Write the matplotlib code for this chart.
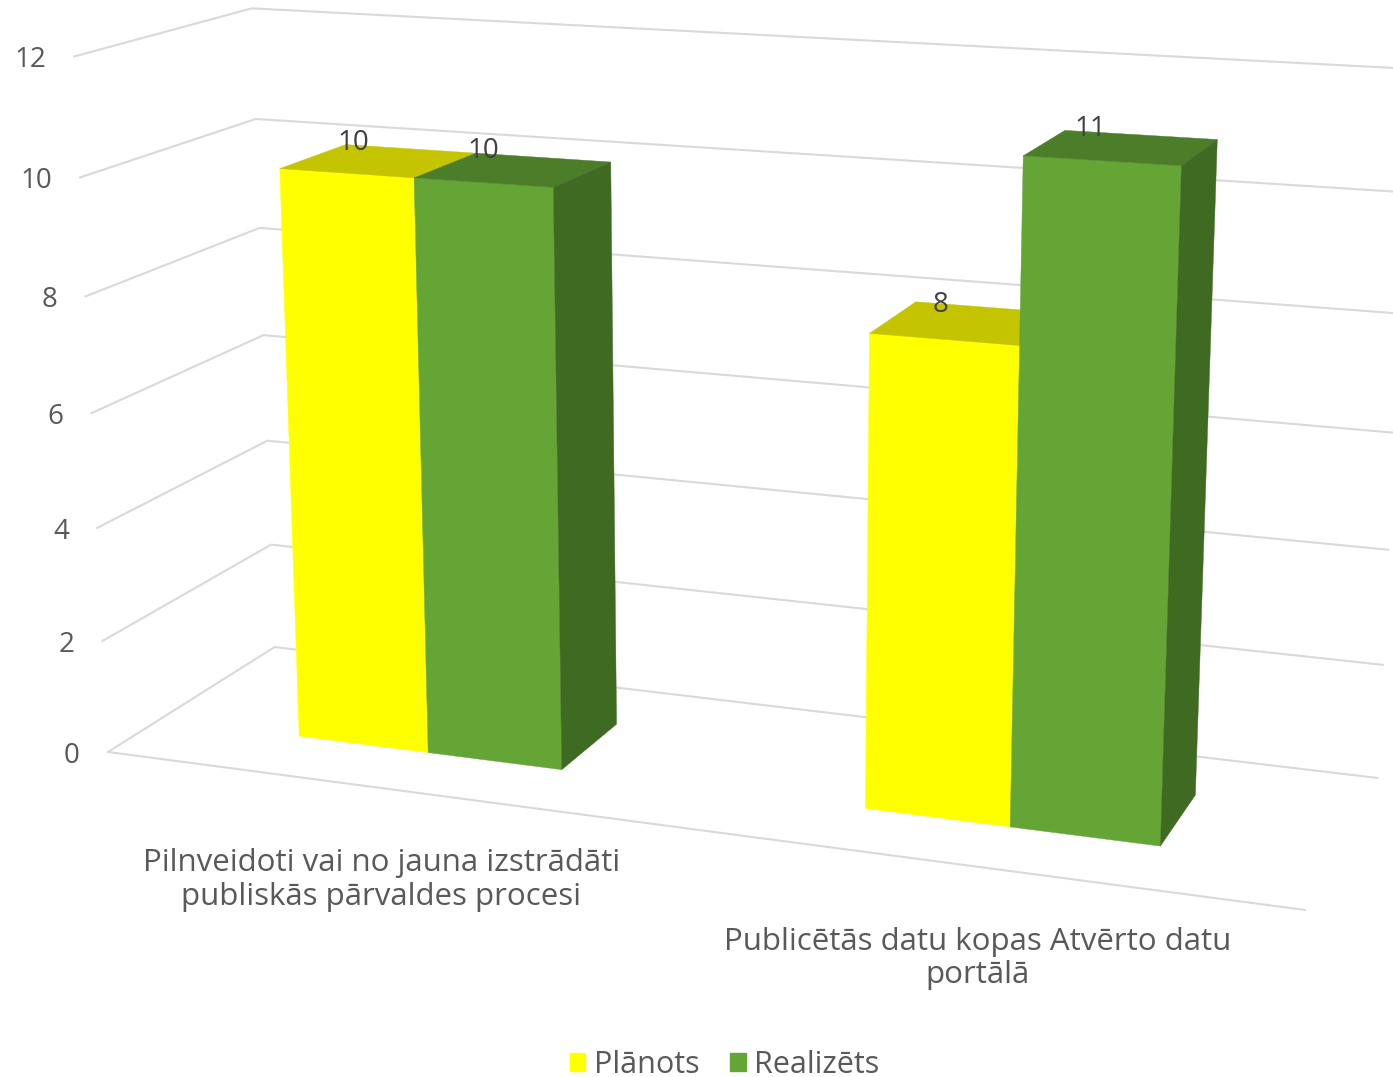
import numpy as np
import matplotlib
matplotlib.use('Agg')
import matplotlib.pyplot as plt
from matplotlib.patches import Patch, Polygon

categories = ['Pilnveidoti vai no jauna izstrādāti\npubliskās pārvaldes procesi',
              'Publicētās datu kopas Atvērto datu\nportālā']
planots = [10, 8]
realizets = [10, 11]
yticks = [0, 2, 4, 6, 8, 10, 12]

plt.rcParams['font.family'] = ['Open Sans', 'DejaVu Sans']
TEXT = '#595959'
GRID = '#d9d9d9'
YELLOW = ('#ffff00', '#c4c400')
GREEN = ('#64a536', '#4c7e2a', '#3f6a22')

# camera matrix for the 3D chart: (category, value, depth) -> pixels
P = np.array([[524.788581, -3.131271, 192.113957, 107.995554],
              [27.652251, -58.190863, -44.970334, 751.971174],
              [-0.056405, -0.004156, 0.092711, 1.0]])


def proj(x, y, z):
    q = P @ np.array([x, y, z, 1.0])
    return q[0] / q[2], q[1] / q[2]


def face(ax, pts, color, zorder):
    ax.add_patch(Polygon([proj(*p) for p in pts], closed=True, facecolor=color,
                         edgecolor=color, linewidth=0.3, zorder=zorder))


def box(ax, x0, x1, h, colors, zorder, side=False):
    z0, z1 = 0.3, 0.7
    face(ax, [(x0, 0, z0), (x1, 0, z0), (x1, h, z0), (x0, h, z0)], colors[0], zorder)
    face(ax, [(x0, h, z0), (x1, h, z0), (x1, h, z1), (x0, h, z1)], colors[1], zorder)
    if side:
        face(ax, [(x1, 0, z0), (x1, 0, z1), (x1, h, z1), (x1, h, z0)], colors[2], zorder)


fig = plt.figure(figsize=(13.93, 10.77), dpi=100)
ax = fig.add_axes([0, 0, 1, 1])
ax.set_xlim(0, 1393)
ax.set_ylim(1077, 0)
ax.axis('off')

# walls
for t in yticks:
    pts = [proj(0, t, 0), proj(0, t, 1), proj(2, t, 1)]
    ax.plot([p[0] for p in pts], [p[1] for p in pts], color=GRID, lw=1.5, zorder=1)
    u, v = proj(0, t, 0)
    ax.text(u - 28, v + 4, str(t), ha='right', va='center', fontsize=20, color=TEXT)
front = [proj(0, 0, 0), proj(2, 0, 0)]
ax.plot([p[0] for p in front], [p[1] for p in front], color=GRID, lw=1.5, zorder=1)

# bars
for i in range(2):
    box(ax, i + 0.262, i + 0.5, planots[i], YELLOW, 2)
    box(ax, i + 0.5, i + 0.74, realizets[i], GREEN, 3, side=True)
    for xc, val in [(i + 0.38, planots[i]), (i + 0.61, realizets[i])]:
        u, v = proj(xc, val, 0.5)
        ax.text(u - 25, v - 18, str(val), ha='center', va='center', fontsize=20,
                color='#404040', zorder=5)
    u, v = proj(i + 0.5, 0, 0)
    ax.text(u, v + 92, categories[i], ha='center', va='center', fontsize=22.5,
            color=TEXT, linespacing=1.14)

handles = [Patch(color=YELLOW[0], label='Plānots'), Patch(color=GREEN[0], label='Realizēts')]
ax.legend(handles=handles, loc='lower center', bbox_to_anchor=(0.52, -0.028), ncol=2,
          frameon=False, fontsize=22, labelcolor=TEXT, handlelength=0.52, handleheight=0.52,
          handletextpad=0.27, columnspacing=1.0)

fig.savefig('out.png', dpi=100)
